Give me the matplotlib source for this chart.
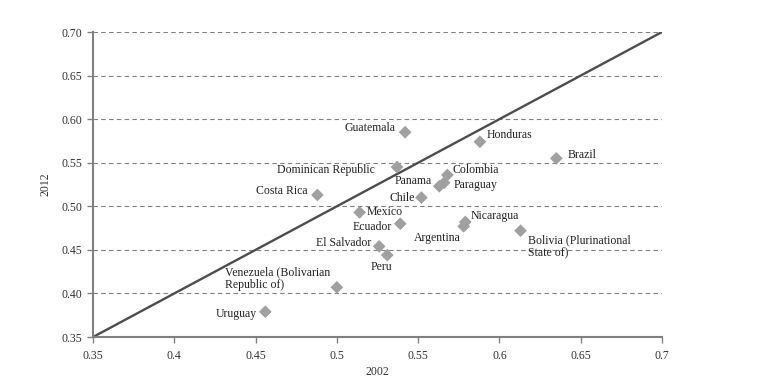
import matplotlib
matplotlib.use("Agg")
import matplotlib.pyplot as plt
import numpy as np

# Gini-type index by country, 2002 vs 2012
countries = ["Guatemala", "Honduras", "Brazil", "Dominican Republic", "Colombia",
             "Panama", "Paraguay", "Costa Rica", "Chile", "Mexico", "Ecuador",
             "Nicaragua", "Argentina", "Bolivia (Plurinational\nState of)",
             "El Salvador", "Peru", "Venezuela (Bolivarian\nRepublic of)", "Uruguay"]
x2002 = [0.542, 0.588, 0.635, 0.537, 0.568, 0.563, 0.566, 0.488, 0.552, 0.514,
         0.539, 0.579, 0.578, 0.613, 0.526, 0.531, 0.500, 0.456]
y2012 = [0.585, 0.574, 0.555, 0.545, 0.536, 0.523, 0.527, 0.513, 0.510, 0.493,
         0.480, 0.482, 0.477, 0.472, 0.454, 0.444, 0.407, 0.379]

# label placement: offset in pixels, horizontal / vertical alignment
label_pos = {
    "Guatemala": (-10, 4, "right", "center"),
    "Honduras": (7, 7, "left", "center"),
    "Brazil": (11, 3, "left", "center"),
    "Dominican Republic": (-22, -3, "right", "center"),
    "Colombia": (5, 5, "left", "center"),
    "Panama": (-7, 5, "right", "center"),
    "Paraguay": (9, -2, "left", "center"),
    "Costa Rica": (-10, 4, "right", "center"),
    "Chile": (-7, 0, "right", "center"),
    "Mexico": (7, 0, "left", "center"),
    "Ecuador": (-8, -3, "right", "center"),
    "Nicaragua": (5, 6, "left", "center"),
    "Argentina": (-50, -12, "left", "center"),
    "Bolivia (Plurinational\nState of)": (7, -4, "left", "top"),
    "El Salvador": (-8, 3, "right", "center"),
    "Peru": (-6, -12, "center", "center"),
    "Venezuela (Bolivarian\nRepublic of)": (-112, 21, "left", "top"),
    "Uruguay": (-8, -2, "right", "center"),
}

xticks = [0.35, 0.4, 0.45, 0.5, 0.55, 0.6, 0.65, 0.7]
xtick_labels = ["0.35", "0.4", "0.45", "0.5", "0.55", "0.6", "0.65", "0.7"]
yticks = [0.35, 0.40, 0.45, 0.50, 0.55, 0.60, 0.65, 0.70]

plt.rcParams["font.family"] = ["Liberation Serif", "DejaVu Serif"]
plt.rcParams["font.size"] = 8.5

fig = plt.figure(figsize=(7.79, 3.88), dpi=100)
ax = fig.add_axes([0.1194, 0.1314, 0.7304, 0.7861])

spine_col = "#808080"
ax.set_xlim(0.35, 0.7)
ax.set_ylim(0.35, 0.7)

for yv in yticks[1:]:
    ax.axhline(yv, color="#808080", lw=0.8, ls=(0, (4, 3)), zorder=0)

ax.plot([0.35, 0.7], [0.35, 0.7], color="#4d4d4d", lw=1.7, zorder=2)
ax.scatter(x2002, y2012, marker="D", s=42, color="#a0a0a0", edgecolors="none", zorder=3)

for name, xv, yv in zip(countries, x2002, y2012):
    dx, dy, ha, va = label_pos[name]
    ax.annotate(name, (xv, yv), xytext=(dx, dy), textcoords="offset pixels",
                ha=ha, va=va, color="#222222", fontsize=8.5, linespacing=1.1)

ax.set_xticks(xticks)
ax.set_xticklabels(xtick_labels)
ax.set_yticks(yticks)
ax.set_yticklabels([f"{v:.2f}" for v in yticks])
ax.tick_params(direction="out", length=4, color=spine_col, labelcolor="#333333", width=1)
ax.tick_params(axis="x", pad=5)

for s in ["top", "right"]:
    ax.spines[s].set_visible(False)
for s in ["left", "bottom"]:
    ax.spines[s].set_color(spine_col)
    ax.spines[s].set_linewidth(1.5)

ax.set_xlabel("2002", color="#333333", labelpad=3)
ax.set_ylabel("2012", color="#333333", labelpad=7)

fig.savefig("out.png", dpi=100)
